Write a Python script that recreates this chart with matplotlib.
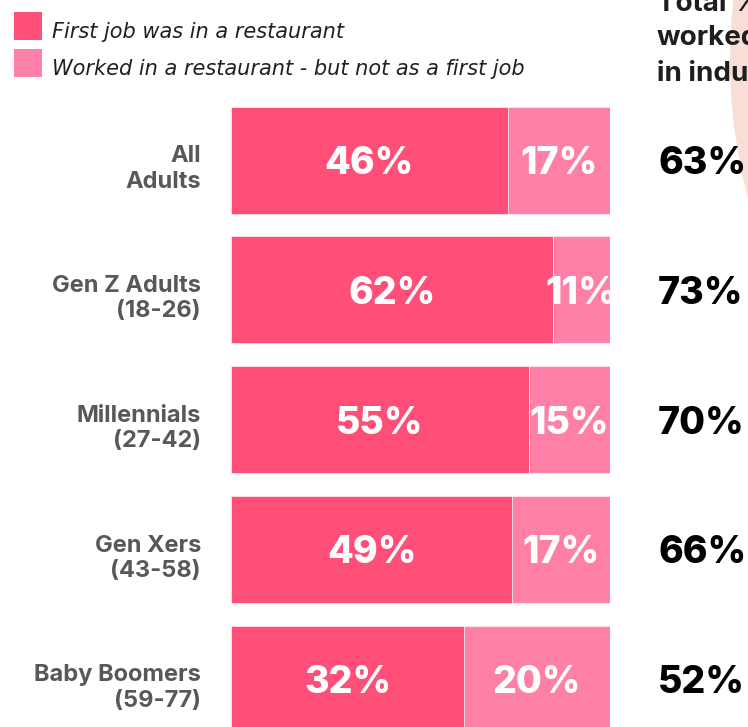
import numpy as np
import matplotlib.pyplot as plt
from matplotlib.patches import Rectangle, Ellipse

# survey shares by generation
groups = ["All\nAdults", "Gen Z Adults\n(18-26)", "Millennials\n(27-42)",
          "Gen Xers\n(43-58)", "Baby Boomers\n(59-77)"]
first_job = [46, 62, 55, 49, 32]
later_job = [17, 11, 15, 17, 20]
totals = [63, 73, 70, 66, 52]

legend_labels = ["First job was in a restaurant",
                 "Worked in a restaurant - but not as a first job"]
header = "Total %\nworked\nin industry"

dark_pink = "#FF4F78"
light_pink = "#FF80A6"
label_grey = "#58585A"

W, H = 748, 727
fig = plt.figure(figsize=(W / 100, H / 100), dpi=100)

# soft peach disc peeking in from the top-right corner
bg = fig.add_axes([0, 0, 1, 1])
bg.set_xlim(0, W)
bg.set_ylim(H, 0)
bg.axis("off")
bg.add_patch(Ellipse((1268, 60), 2 * 538, 2 * 538, color="#F8DED6", lw=0))

# legend squares + italic labels
for i, (lab, col) in enumerate(zip(legend_labels, [dark_pink, light_pink])):
    top = 12 + i * 37
    bg.add_patch(Rectangle((14, top), 28, 28, color=col, lw=0))
    bg.text(52, top + 20, lab, fontsize=15, style="italic", family="DejaVu Sans",
            color="#231F20", va="center", ha="left")

bg.text(657, 39, header, fontsize=20, fontweight="bold", family="Inter",
        color="#1E1E1E", va="center", ha="left", linespacing=1.4)

# stacked bars, each row normalised to its total
first = np.array(first_job, dtype=float)
later = np.array(later_job, dtype=float)
tot = np.array(totals, dtype=float)
f_share = first / tot
l_share = later / tot

pitch = 129.75
y0 = 160
ax = fig.add_axes([231 / W, 0, 379 / W, 1])
ax.set_xlim(0, 1)
ax.set_ylim((H - y0) / pitch, -y0 / pitch)
ax.axis("off")

y = np.arange(len(groups))
bh = 107 / pitch
ax.barh(y, f_share, height=bh, color=dark_pink, edgecolor="white", linewidth=0.4)
ax.barh(y, l_share, left=f_share, height=bh, color=light_pink,
        edgecolor="white", linewidth=0.4)

num_kw = dict(fontsize=27, fontweight="heavy", family="Inter",
              va="center", ha="center")
dy = 4 / pitch
for i in range(len(groups)):
    ax.text(f_share[i] / 2, i + dy, f"{first_job[i]}%", color="white", **num_kw)
    ax.text(f_share[i] + l_share[i] / 2, i + dy, f"{later_job[i]}%",
            color="white", **num_kw)
    ax.text(1.127, i + dy, f"{totals[i]}%", color="black", clip_on=False,
            **{**num_kw, "ha": "left"})
    ax.text(-0.079, i + 9 / pitch, groups[i], color=label_grey, fontsize=17,
            fontweight="bold", family="Inter", ha="right", va="center",
            linespacing=1.2, clip_on=False)

fig.savefig("out.png", dpi=100)
